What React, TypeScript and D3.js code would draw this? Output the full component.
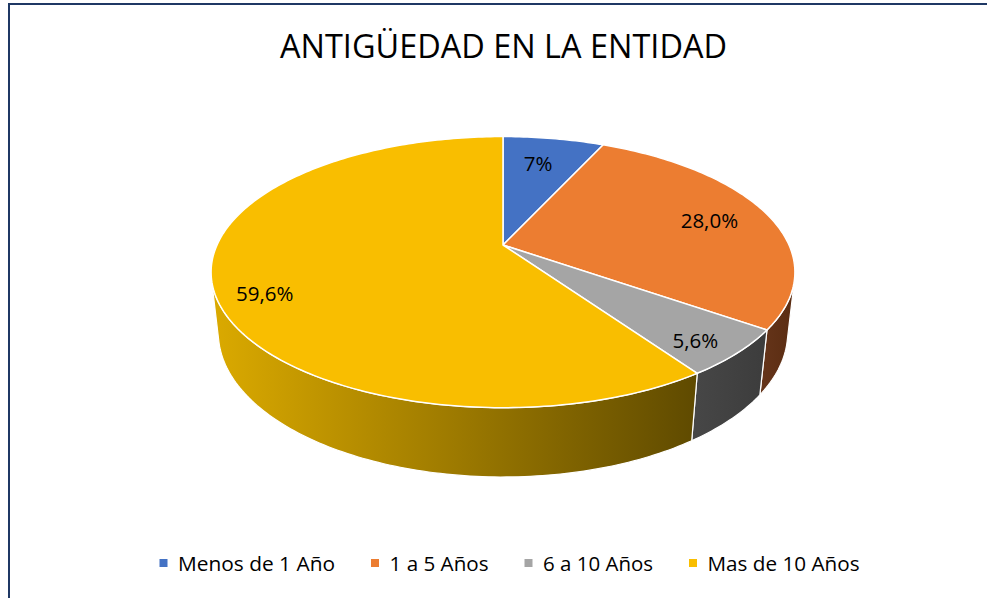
import React from "react";
import * as d3 from "d3";

// ---- data ----
const CATEGORIES = ["Menos de 1 Año", "1 a 5 Años", "6 a 10 Años", "Mas de 10 Años"];
const VALUES = [6.8, 28.0, 5.6, 59.6];
const LABELS = ["7%", "28,0%", "5,6%", "59,6%"];
const TITLE = "ANTIGÜEDAD EN LA ENTIDAD";

// ---- styles / layout ----
const TOP_COLORS = ["#4472C4", "#EC7D31", "#A5A5A5", "#F9BE00"];
const SIDE_COLORS: [string, string][] = [
  ["#2F5597", "#203864"],
  ["#66351A", "#5A2C12"],
  ["#474747", "#3C3C3C"],
  ["#DBAA00", "#5F4A00"],
];
const LABEL_POS: [number, number][] = [
  [0.72, -1],
  [0.775, 0.5],
  [0.87, 2.3],
  [0.85, -7],
];
const LEGEND_W = [157, 99, 110, 152];

const W = 987;
const H = 598;
const CX = 503;
const CY = 245;
const S = 286;
const TILT = Math.asin(0.455);
const DIST = 4.45;
const DEPTH = 0.24;
const FONT = "'Open Sans', 'Noto Sans', sans-serif";

function project(X: number, Y: number, Z: number): [number, number] {
  const sa = Math.sin(TILT);
  const ca = Math.cos(TILT);
  const u = Y * ca - Z * sa;
  const w = Y * sa + Z * ca;
  const k = DIST / (DIST - w);
  return [CX + S * X * k, CY - S * u * k];
}
function rim(phi: number, r: number, Y: number): [number, number] {
  return project(r * Math.sin(phi), Y, -r * Math.cos(phi));
}
function arcPts(a0: number, a1: number, r: number, Y: number): [number, number][] {
  const n = Math.max(2, Math.ceil(Math.abs(a1 - a0) / (Math.PI / 180)));
  return d3.range(n + 1).map((i) => rim(a0 + ((a1 - a0) * i) / n, r, Y));
}

export default function App() {
  const pie = d3.pie<number>().sort(null).value((d) => d);
  const arcs = pie(VALUES);
  const line = d3.line<[number, number]>().curve(d3.curveLinear);

  const c0 = 1 / (DIST * Math.cos(TILT));
  const visA = Math.acos(-c0);
  const visB = 2 * Math.PI - visA;

  const walls = arcs
    .map((a, i) => {
      const s = Math.max(a.startAngle, visA);
      const e = Math.min(a.endAngle, visB);
      if (e <= s) return null;
      const pts = [...arcPts(s, e, 1, 0), ...arcPts(e, s, 1, -DEPTH)];
      return { i, d: line(pts) + "Z" };
    })
    .filter(Boolean) as { i: number; d: string }[];

  const tops = arcs.map((a, i) => {
    const pts = [project(0, 0, 0), ...arcPts(a.startAngle, a.endAngle, 1, 0)];
    return { i, d: line(pts) + "Z" };
  });

  const labels = arcs.map((a, i) => {
    const mid = (a.startAngle + a.endAngle) / 2 + (LABEL_POS[i][1] * Math.PI) / 180;
    const [x, y] = rim(mid, LABEL_POS[i][0], 0);
    return { i, x, y };
  });

  // legend layout
  const mk = 8;
  const gapMT = 10.5;
  const gapItem = 36;
  const total = LEGEND_W.reduce((s, w) => s + mk + gapMT + w, 0) + gapItem * (LEGEND_W.length - 1);
  let lx = 509.5 - total / 2;
  const legend = CATEGORIES.map((c, i) => {
    const item = { c, i, x: lx };
    lx += mk + gapMT + LEGEND_W[i] + gapItem;
    return item;
  });

  return (
    <svg
      width={W}
      height={H}
      style={{ position: "absolute", left: 0, top: 0, background: "#fff" }}
    >
      <defs>
        {SIDE_COLORS.map((c, i) => (
          <linearGradient key={i} id={`side${i}`} x1="0" x2="1" y1="0" y2="0">
            <stop offset="0" stopColor={c[0]} />
            <stop offset="1" stopColor={c[1]} />
          </linearGradient>
        ))}
      </defs>
      <rect x={0} y={0} width={W} height={H} fill="#fff" />
      <rect x={9} y={4} width={W + 50} height={H + 50} fill="none" stroke="#1F3864" strokeWidth={2} />
      <text
        x={503.5}
        y={58}
        textAnchor="middle"
        fontFamily={FONT}
        fontSize={32}
        fill="#000"
        textLength={447}
        lengthAdjust="spacingAndGlyphs"
      >
        {TITLE}
      </text>
      <g>
        {walls.map((w) => (
          <path key={`w${w.i}`} d={w.d} fill={`url(#side${w.i})`} stroke="#fff" strokeWidth={1.2} strokeLinejoin="round" />
        ))}
        {tops.map((t) => (
          <path key={`t${t.i}`} d={t.d} fill={TOP_COLORS[t.i]} stroke="#fff" strokeWidth={1.5} strokeLinejoin="round" />
        ))}
      </g>
      <g fontFamily={FONT} fontSize={20.5} fill="#000">
        {labels.map((l) => (
          <text key={`l${l.i}`} x={l.x} y={l.y + 7} textAnchor="middle">
            {LABELS[l.i]}
          </text>
        ))}
      </g>
      <g fontFamily={FONT} fontSize={20} fill="#000">
        {legend.map((it) => (
          <g key={`lg${it.i}`}>
            <rect x={it.x} y={559} width={mk} height={mk} fill={TOP_COLORS[it.i]} />
            <text
              x={it.x + mk + gapMT}
              y={571}
              textLength={LEGEND_W[it.i]}
              lengthAdjust="spacingAndGlyphs"
            >
              {it.c}
            </text>
          </g>
        ))}
      </g>
    </svg>
  );
}
